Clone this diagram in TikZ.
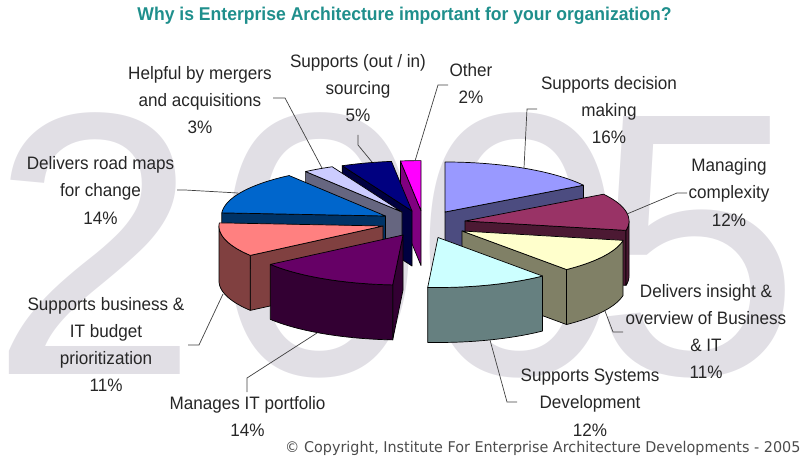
\documentclass[tikz,border=0pt]{standalone}
\usepackage{fontspec}
\setmainfont{Liberation Sans}[FakeStretch=0.95]
\newfontfamily\digitfont{Liberation Sans}
\newfontfamily\notefont{DejaVu Sans}[FakeStretch=0.97]
\usetikzlibrary{calc}

\definecolor{titleteal}{HTML}{1F8F8C}
\definecolor{bgdigit}{HTML}{E1DFE5}
\definecolor{dectop}{HTML}{9999FF}  \definecolor{decside}{HTML}{4C4C80}
\definecolor{cpxtop}{HTML}{993366}  \definecolor{cpxside}{HTML}{4C1933}
\definecolor{instop}{HTML}{FFFFCC}  \definecolor{insside}{HTML}{808066}
\definecolor{systop}{HTML}{CCFFFF}  \definecolor{sysside}{HTML}{668080}
\definecolor{porttop}{HTML}{660066} \definecolor{portside}{HTML}{330033}
\definecolor{budtop}{HTML}{FF8080}  \definecolor{budside}{HTML}{804040}
\definecolor{maptop}{HTML}{0066CC}  \definecolor{mapside}{HTML}{003366}
\definecolor{mrgtop}{HTML}{CCCCFF}  \definecolor{mrgside}{HTML}{666680}
\definecolor{srctop}{HTML}{000080}  \definecolor{srcside}{HTML}{000040}
\definecolor{othtop}{HTML}{FF00FF}  \definecolor{othside}{HTML}{800080}

\tikzset{
  piece/.style={draw=black,line width=0.7pt,line join=round},
  answer/.style={font=\fontsize{18}{27.3}\selectfont,align=center,text=black!85,inner sep=0pt},
  leader/.style={draw=black!75,line width=0.7pt},
  bigdigit/.style={font=\digitfont\fontsize{375}{375}\selectfont,text=bgdigit,inner sep=0pt,anchor=base}
}

\newcommand{\pierx}{164}
\newcommand{\piery}{50}
\newcommand{\piedepth}{55}
% top of a slice: centre x, centre y, start, end (clockwise from 12 o'clock), colour
\newcommand{\slicetop}[5]{%
  \filldraw[piece,fill=#5] (#1,#2) -- plot[domain=#3:#4,samples=40] ({#1+\pierx*sin(\x)},{#2-\piery*cos(\x)}) -- cycle;}
% cut face along one radius
\newcommand{\slicecut}[4]{%
  \filldraw[piece,fill=#4] (#1,#2) -- ({#1+\pierx*sin(#3)},{#2-\piery*cos(#3)}) -- ++(0,\piedepth) -- (#1,{#2+\piedepth}) -- cycle;}
% front rim between two angles
\newcommand{\slicerim}[5]{%
  \filldraw[piece,fill=#5] plot[domain=#3:#4,samples=30] ({#1+\pierx*sin(\x)},{#2-\piery*cos(\x)})
    -- plot[domain=#4:#3,samples=30] ({#1+\pierx*sin(\x)},{#2+\piedepth-\piery*cos(\x)}) -- cycle;}

\begin{document}
\begin{tikzpicture}[x=1pt,y=-1pt]
\useasboundingbox (0,0) rectangle (806,468);

% background year
\node (d1) [bigdigit] at (95,374) {2};
\node (d2) [bigdigit] at (320,374) {0};
\node (d3) [bigdigit] at (520,374) {0};
\node (d4) [bigdigit] at (697,374) {5};

\node (title) [anchor=base,font=\bfseries\fontsize{18.5}{20}\selectfont,text=titleteal] at (404.5,20.7)
  {Why is Enterprise Architecture important for your organization?};

% slices, back to front
\slicecut{421}{210.6}{352.8}{othside}
\slicetop{421}{210.6}{352.8}{360}{othtop}
\slicecut{412}{211}{334.8}{srcside}
\slicetop{412}{211}{334.8}{352.8}{srctop}
\slicecut{402}{212}{324}{mrgside}
\slicetop{402}{212}{324}{334.8}{mrgtop}
\slicecut{445}{212}{57.6}{decside}
\slicetop{445}{212}{0}{57.6}{dectop}
\slicecut{385.5}{216}{273.6}{mapside}
\slicetop{385.5}{216}{273.6}{324}{maptop}
\slicecut{465}{221}{100.8}{cpxside}
\slicerim{465}{221}{90}{100.8}{cpxside}
\slicetop{465}{221}{57.6}{100.8}{cpxtop}
\slicecut{383}{226}{234}{budside}
\slicerim{383}{226}{234}{270}{budside}
\slicetop{383}{226}{234}{273.6}{budtop}
\slicecut{462}{231}{140.4}{insside}
\slicerim{462}{231}{100.8}{140.4}{insside}
\slicetop{462}{231}{100.8}{140.4}{instop}
\slicecut{403}{235}{183.6}{portside}
\slicerim{403}{235}{183.6}{234}{portside}
\slicetop{403}{235}{183.6}{234}{porttop}
\slicerim{438}{237.5}{140.4}{183.6}{sysside}
\slicetop{438}{237.5}{140.4}{183.6}{systop}

% labels
\node (other) [answer] at (471,83.5) {Other\\2\%};
\node (sourcing) [answer] at (358,88) {Supports (out / in)\\sourcing\\5\%};
\node (mergers) [answer] at (200,100) {Helpful by mergers\\and acquisitions\\3\%};
\node (decision) [answer] at (609,110) {Supports decision\\making\\16\%};
\node (complexity) [answer] at (729,192.5) {Managing\\complexity\\12\%};
\node (insight) [answer] at (706,331.5) {Delivers insight \&\\overview of Business\\\& IT\\11\%};
\node (systems) [answer] at (590,402.5) {Supports Systems\\Development\\12\%};
\node (portfolio) [answer] at (247.5,416.7) {Manages IT portfolio\\14\%};
\node (budget) [answer] at (106,344.5) {Supports business \&\\IT budget\\prioritization\\11\%};
\node (roadmaps) [answer] at (100.5,190.5) {Delivers road maps\\for change\\14\%};

% leader lines
\coordinate (other tick) at (448,85);       \coordinate (other end) at (415,161);
\coordinate (sourcing tick) at (358,135);   \coordinate (sourcing end) at (372,162);
\coordinate (mergers tick) at (273,98);     \coordinate (mergers end) at (322,168);
\coordinate (decision tick) at (537,109);   \coordinate (decision end) at (524,168);
\coordinate (complexity tick) at (687,193); \coordinate (complexity end) at (627,214);
\coordinate (insight tick) at (623,332);    \coordinate (insight end) at (605,311);
\coordinate (systems tick) at (517,402);    \coordinate (systems end) at (490,340);
\coordinate (portfolio tick) at (247,392);  \coordinate (portfolio end) at (317,333);
\coordinate (budget tick) at (188,345);     \coordinate (budget end) at (223,294);
\coordinate (roadmaps tick) at (177,190);   \coordinate (roadmaps end) at (238,193);
\draw[leader] (other tick) -- ++(-10,0) -- (other end);
\draw[leader] (sourcing tick) -- ++(0,10) -- (sourcing end);
\draw[leader] (mergers tick) -- ++(12,0) -- (mergers end);
\draw[leader] (decision tick) -- ++(-10,0) -- (decision end);
\draw[leader] (complexity tick) -- ++(-10,0) -- (complexity end);
\draw[leader] (insight tick) -- ++(-10,0) -- (insight end);
\draw[leader] (systems tick) -- ++(-10,0) -- (systems end);
\draw[leader] (portfolio tick) -- ++(0,-14) -- (portfolio end);
\draw[leader] (budget tick) -- ++(11,0) -- (budget end);
\draw[leader] (roadmaps tick) -- ++(8,0) -- (roadmaps end);

\node (note) [anchor=base west,font=\notefont\fontsize{14.8}{16}\selectfont,text=black!70,inner sep=0pt] at (285,452)
  {\textcopyright{} Copyright, Institute For Enterprise Architecture Developments - 2005};
\end{tikzpicture}
\end{document}
